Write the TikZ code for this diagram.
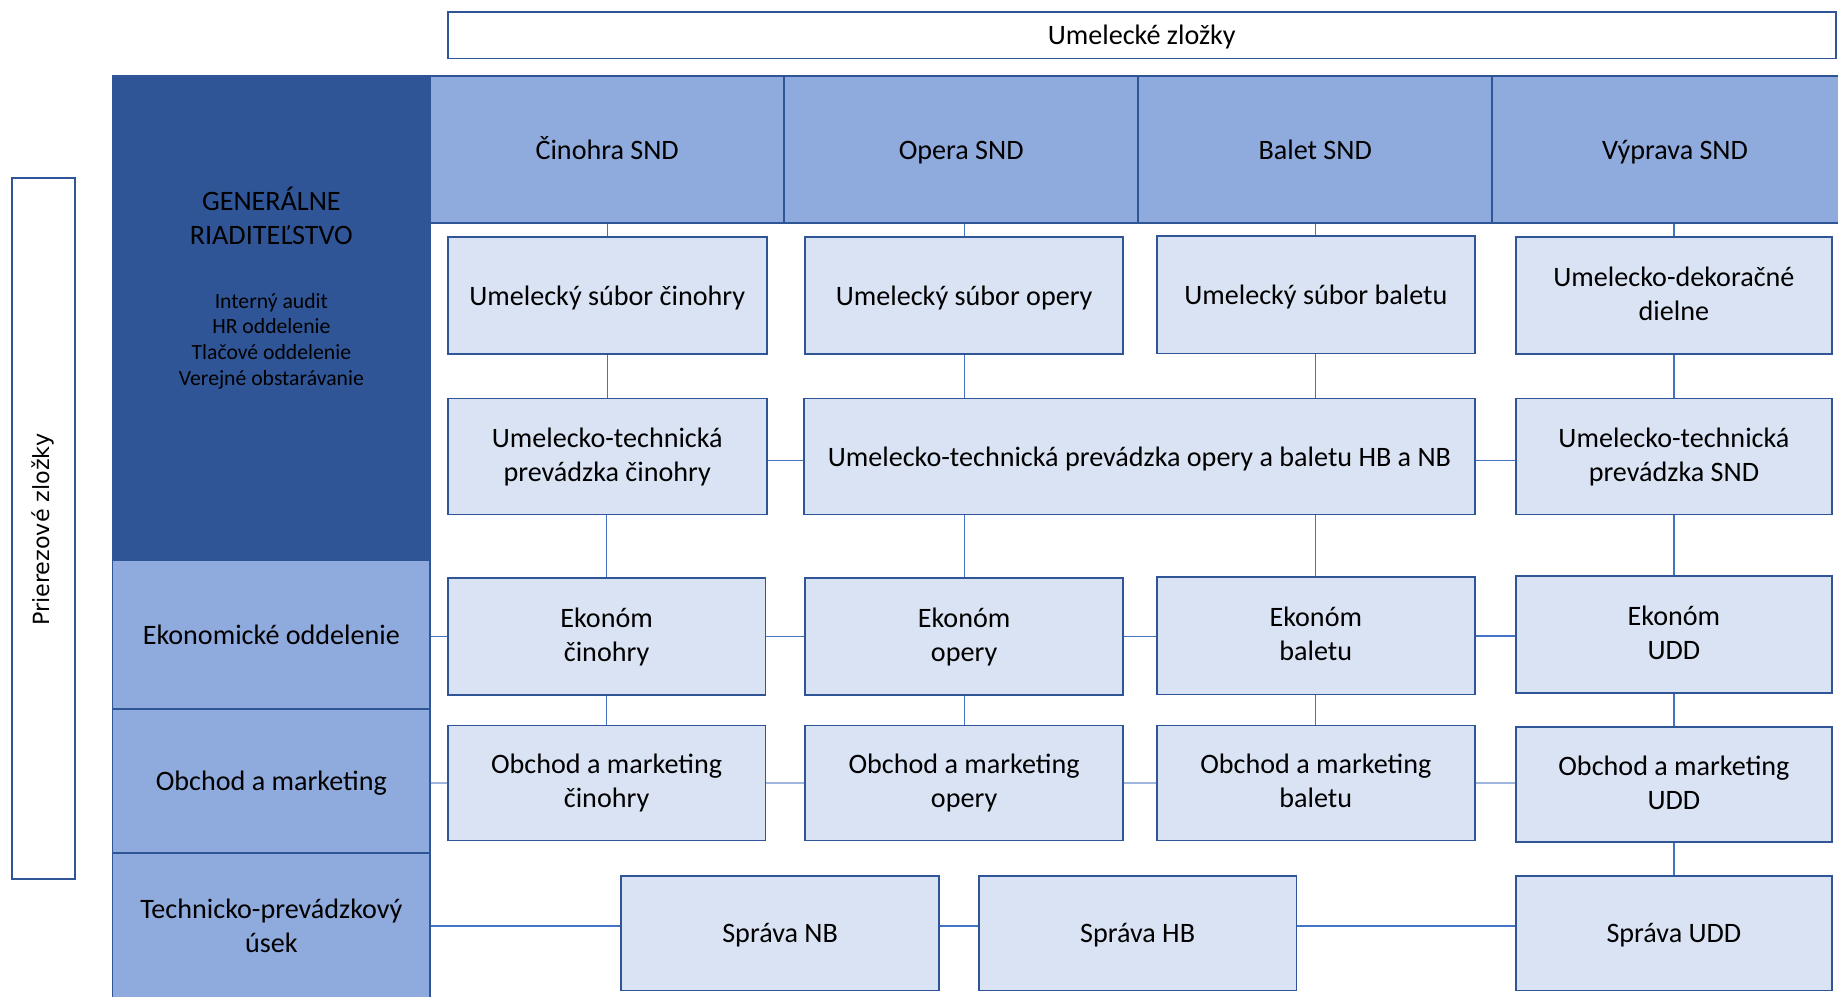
\documentclass[tikz,border=0pt]{standalone}
\usepackage{fontspec}
\setmainfont{Carlito}
\newfontfamily\sidefont{DejaVu Sans}
\definecolor{dk}{HTML}{2F5597}
\definecolor{md}{HTML}{8FAADC}
\definecolor{lt}{HTML}{DAE3F3}
\definecolor{ln}{HTML}{4472C4}
\definecolor{lnl}{HTML}{9FB5DD}
\newcommand{\mystrut}{\rule[-3.1pt]{0pt}{23.6pt}}
\begin{document}
\begin{tikzpicture}[x=1pt,y=-1pt,
  box/.style={draw=dk, line width=1.5pt, fill=lt, inner sep=0pt, align=center,
    font=\fontsize{24}{29}\selectfont,
    execute at begin node={\mystrut}, execute at end node={\mystrut}},
  hbox/.style={box, fill=md},
  conn/.style={draw=ln, line width=1pt},
  connl/.style={draw=lnl, line width=1.6pt},
  plain/.style={inner sep=0pt, align=center}]
\useasboundingbox (0,0) rectangle (1568,850);
% frames
\node[box, fill=white, minimum width=1184pt, minimum height=40pt] (top) at (974,30) {Umelecké zložky};
\node[draw=dk, line width=1.5pt, fill=white, minimum width=54pt, minimum height=598pt, inner sep=0pt] (side) at (37,451) {};
\node[plain, rotate=90, font=\sidefont\fontsize{19}{23}\selectfont] (sidet) at (37,452) {Prierezové zložky};
% left column
\node[draw=dk, line width=1.5pt, fill=dk, minimum width=271pt, minimum height=413pt, inner sep=0pt] (gr) at (231.5,271.5) {};
\node[plain, font=\fontsize{24}{29}\selectfont] (grt) at (231.5,184.5) {GENERÁLNE\\RIADITEĽSTVO};
\node[plain, font=\fontsize{18.5}{22}\selectfont] (grl) at (231.5,291) {Interný audit\\HR oddelenie\\Tlačové oddelenie\\Verejné obstarávanie};
\node[hbox, minimum width=271pt, minimum height=127pt] (eo) at (231.5,541.5) {Ekonomické oddelenie};
\node[hbox, minimum width=271pt, minimum height=123pt] (om) at (231.5,666.5) {Obchod a marketing};
\node[hbox, minimum width=271pt, minimum height=126pt] (tp) at (231.5,791) {Technicko-prevádzkový\\úsek};
% header
\node[hbox, minimum width=302pt, minimum height=125pt] (h1) at (518,127.5) {Činohra SND};
\node[hbox, minimum width=302pt, minimum height=125pt] (h2) at (820,127.5) {Opera SND};
\node[hbox, minimum width=302pt, minimum height=125pt] (h3) at (1122,127.5) {Balet SND};
\node[hbox, minimum width=312pt, minimum height=125pt] (h4) at (1429,127.5) {Výprava SND};
% row 1
\node[box, minimum width=272pt, minimum height=100pt] (u1) at (518,252) {Umelecký súbor činohry};
\node[box, minimum width=271pt, minimum height=100pt] (u2) at (822.5,252) {Umelecký súbor opery};
\node[box, minimum width=271pt, minimum height=100pt] (u3) at (1122.5,251.5) {Umelecký súbor baletu};
\node[box, minimum width=270pt, minimum height=100pt] (u4) at (1428,252) {Umelecko-dekoračné\\dielne};
% row 2
\node[box, minimum width=272pt, minimum height=99pt] (t1) at (518,389.5) {Umelecko-technická\\prevádzka činohry};
\node[box, minimum width=572pt, minimum height=99pt] (w) at (972,389.5) {Umelecko-technická prevádzka opery a baletu HB a NB};
\node[box, minimum width=270pt, minimum height=99pt] (t4) at (1428,389.5) {Umelecko-technická\\prevádzka SND};
% row 3
\node[box, minimum width=271pt, minimum height=100pt] (e1) at (517.5,543) {Ekonóm\\činohry};
\node[box, minimum width=271pt, minimum height=100pt] (e2) at (822.5,543) {Ekonóm\\opery};
\node[box, minimum width=271pt, minimum height=100pt] (e3) at (1122.5,542.5) {Ekonóm\\baletu};
\node[box, minimum width=270pt, minimum height=100pt] (e4) at (1428,541.5) {Ekonóm\\UDD};
% row 4
\node[box, minimum width=271pt, minimum height=98pt] (o1) at (517.5,668) {Obchod a marketing\\činohry};
\node[box, minimum width=271pt, minimum height=98pt] (o2) at (822.5,668) {Obchod a marketing\\opery};
\node[box, minimum width=271pt, minimum height=98pt] (o3) at (1122.5,668) {Obchod a marketing\\baletu};
\node[box, minimum width=270pt, minimum height=98pt] (o4) at (1428,669) {Obchod a marketing\\UDD};
% row 5
\node[box, minimum width=271pt, minimum height=98pt] (s1) at (665.5,796) {Správa NB};
\node[box, minimum width=271pt, minimum height=98pt] (s2) at (970.5,796) {Správa HB};
\node[box, minimum width=270pt, minimum height=98pt] (s4) at (1428,796) {Správa UDD};
% vertical connectors
\draw[conn] (u1.north) -- (u1.north |- h1.south);
\draw[conn] (u2.north) -- (u2.north |- h2.south);
\draw[conn] (u3.north) -- (u3.north |- h3.south);
\draw[conn] (u4.north) -- (u4.north |- h4.south);
\draw[conn] (t1.north) -- (t1.north |- u1.south);
\draw[conn] (u2.south) -- (u2.south |- w.north);
\draw[conn] (u3.south) -- (u3.south |- w.north);
\draw[conn] (t4.north) -- (t4.north |- u4.south);
\draw[conn] (e1.north) -- (e1.north |- t1.south);
\draw[conn] (e2.north) -- (e2.north |- w.south);
\draw[conn] (e3.north) -- (e3.north |- w.south);
\draw[conn] (e4.north) -- (e4.north |- t4.south);
\draw[conn] (o1.north) -- (o1.north |- e1.south);
\draw[conn] (o2.north) -- (o2.north |- e2.south);
\draw[conn] (o3.north) -- (o3.north |- e3.south);
\draw[conn] (o4.north) -- (o4.north |- e4.south);
\draw[conn] (s4.north) -- (s4.north |- o4.south);
% horizontal connectors
\draw[conn] ([yshift=-3.5pt]t1.east) -- ([yshift=-3.5pt]t1.east -| w.west);
\draw[conn] ([yshift=-3.5pt]w.east) -- ([yshift=-3.5pt]w.east -| t4.west);
\draw[conn] (e1.west) -- (e1.west -| eo.east);
\draw[conn] (e1.east) -- (e1.east -| e2.west);
\draw[conn] (e2.east) -- (e2.east -| e3.west);
\draw[conn] (e3.east) -- (e3.east -| e4.west);
\draw[connl] (o1.west) -- (o1.west -| om.east);
\draw[connl] (o1.east) -- (o1.east -| o2.west);
\draw[connl] (o2.east) -- (o2.east -| o3.west);
\draw[connl] (o3.east) -- (o3.east -| o4.west);
\draw[conn] ([yshift=6pt]s1.west) -- ([yshift=6pt]s1.west -| tp.east);
\draw[conn] ([yshift=6pt]s1.east) -- ([yshift=6pt]s1.east -| s2.west);
\draw[conn] ([yshift=6pt]s2.east) -- ([yshift=6pt]s2.east -| s4.west);
\end{tikzpicture}
\end{document}
